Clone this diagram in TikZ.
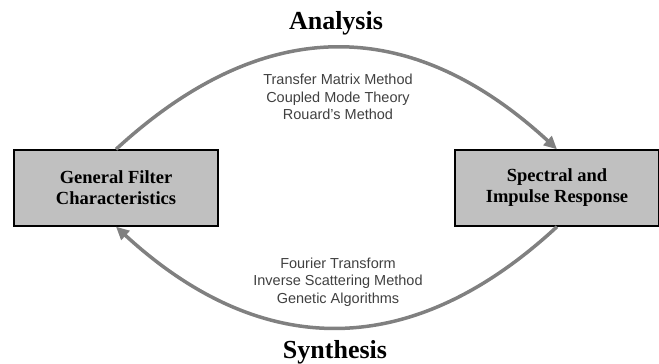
\documentclass[tikz,border=0pt]{standalone}
\usepackage{fontspec}
\setmainfont{Liberation Serif}
\setsansfont{Liberation Sans}
\usepackage{tikz}
\usetikzlibrary{arrows.meta}
\definecolor{boxgray}{RGB}{192,192,192}
\definecolor{arcgray}{RGB}{128,128,128}
\definecolor{txtgray}{RGB}{64,64,64}
\tikzset{
  block/.style={draw=black, line width=1.4pt, fill=boxgray, minimum width=204pt,
    minimum height=76pt, align=center, font=\fontsize{18.5}{21}\selectfont\bfseries},
  title/.style={anchor=base, font=\fontsize{26}{30}\selectfont\bfseries},
  methods/.style={align=center, text=txtgray, font=\fontsize{14.5}{17.5}\selectfont\sffamily},
  flow/.style={draw=arcgray, line width=3.5pt, -{Triangle[length=13pt,width=12pt]}}
}

\begin{document}
\begin{tikzpicture}[x=1pt, y=1pt]
    \useasboundingbox (0, 0) rectangle (659, 364);

    \node[block] at (116, 176) (gfc) {General Filter\\Characteristics};
    \node[block] at (557, 176) (sir) {Spectral and\\Impulse Response};

    \node[title] at (336, 334) (ana) {Analysis};
    \node[title] at (335, 5) (syn) {Synthesis};

    % the two arcs
    \draw[flow] (gfc.north) .. controls (263, 350) and (410, 350) .. (sir.north);
    \draw[flow] (sir.south) .. controls (412, 3) and (262, 3) .. (gfc.south);

    \node[methods] at (338, 267) (amth) {Transfer Matrix Method\\Coupled Mode Theory\\Rouard's Method};
    \node[methods] at (338, 82) (smth) {Fourier Transform\\Inverse Scattering Method\\Genetic Algorithms};
  \end{tikzpicture}
\end{document}
